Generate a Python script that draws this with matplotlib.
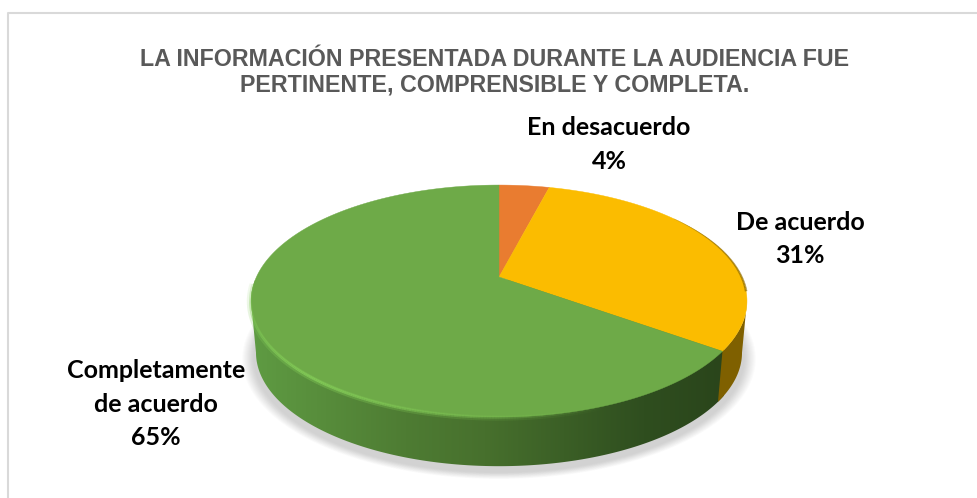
import numpy as np
import matplotlib
matplotlib.use("Agg")
import matplotlib.pyplot as plt
from matplotlib.collections import LineCollection
from matplotlib.colors import LinearSegmentedColormap, to_rgb

# ── Data ──────────────────────────────────────────────────────────────
categories = ["En desacuerdo", "De acuerdo", "Completamente\nde acuerdo"]
values = [4, 31, 65]
top_colors = ["#E97C30", "#FBBC00", "#6EAA48"]
title = "LA INFORMACIÓN PRESENTADA DURANTE LA AUDIENCIA FUE\nPERTINENTE, COMPRENSIBLE Y COMPLETA."

# pie geometry in pixels of the 977x498 canvas
CX, APEX_Y = 499, 277
A, B, K = 242.6, 111.0, 0.207
DEPTH, SHRINK = 52, 0.98


def project(frac, radius=1.0, drop=0.0, shrink=1.0):
    """Clockwise fraction of the pie -> canvas pixels, with perspective."""
    t = 2 * np.pi * np.asarray(frac)
    x, y = radius * np.sin(t), radius * np.cos(t)
    d = 1 + K * y
    return CX + shrink * A * x / d, APEX_Y + drop - shrink * B * y / d


def arc_segments(arc, radius=1.0):
    sx, sy = project(arc, radius=radius)
    pts = np.c_[sx, sy]
    return np.stack([pts[:-1], pts[1:]], axis=1)


fig = plt.figure(figsize=(9.77, 4.98), dpi=100)
ax = fig.add_axes([0, 0, 1, 1])
ax.set_xlim(0, 977)
ax.set_ylim(498, 0)
ax.axis("off")

# chart frame: only the left and top edges fall inside the crop
ax.plot([8, 8, 977], [498, 13, 13], color="#D9D9D9", lw=1.5, zorder=1)

fr = np.linspace(0, 1, 721)

# soft shadow below the pie
for grow in np.linspace(1.035, 0.99, 12):
    sx, sy = project(fr, shrink=grow, drop=DEPTH + 5)
    ax.fill(sx, sy, color="#707070", alpha=0.028, lw=0, zorder=2)

# ── Side wall ─────────────────────────────────────────────────────────
# the silhouette runs through the left and right extremes of both rims
ring_x = project(fr)[0]
f_right, f_left = fr[np.argmax(ring_x)], fr[np.argmin(ring_x)]
bx, by = project(np.linspace(f_right, f_left, 300), drop=DEPTH, shrink=SHRINK)
tx, ty = project(np.linspace(f_left, 1 + f_right, 300))
wall_x = np.r_[bx, tx]
wall_y = np.r_[by, ty]

wall_cmap = LinearSegmentedColormap.from_list(
    "wall", ["#5F9C43", "#578C3B", "#4E7C33", "#47702D", "#3B5F26", "#2F4E1F", "#2A451B"]
)
grad = np.linspace(0, 1, 256).reshape(1, -1)
left, right = CX - A - 10, project(0.35)[0] + 1
im = ax.imshow(grad, cmap=wall_cmap, extent=[left, right, 480, 280], aspect="auto", zorder=3)
poly = ax.fill(wall_x, wall_y, color="none", zorder=3)[0]
im.set_clip_path(poly)

# yellow part of the wall, right of the slice edge
edge = 0.35
yf = np.linspace(f_right, edge, 80)
ux, uy = project(yf)
dx, dy = project(yf[::-1], drop=DEPTH, shrink=SHRINK)
ax.fill(np.r_[ux, dx], np.r_[uy, dy], color="#7F6000", lw=0, zorder=3.1)

# ── Top face ──────────────────────────────────────────────────────────
bounds = np.r_[0, np.cumsum(values)] / np.sum(values)
for lo, hi, col in zip(bounds[:-1], bounds[1:], top_colors):
    arc = np.linspace(lo, hi, 200)
    sx, sy = project(arc)
    ax.fill(np.r_[CX, sx], np.r_[APEX_Y, sy], color=col, lw=0.3, ec=col, zorder=4)

# dark shaded edge on the far right of the yellow slice
arc = np.linspace(0.15, 0.27, 60)
segs = arc_segments(arc)
lw = np.linspace(0.2, 1.8, len(segs))
ax.add_collection(LineCollection(segs, colors="#8A6800", linewidths=lw, alpha=0.7, zorder=4.2))

# light bevel along the front rim of the green slice
arc = np.linspace(0.40, 0.74, 240)
for rad, width, strength in [(1.006, 3.8, 0.4), (1.003, 1.8, 0.85)]:
    segs = arc_segments(arc, radius=rad)
    peak = np.clip(1 - np.abs(arc[:-1] - 0.61) / 0.17, 0.0, 1) * strength
    colors = np.zeros((len(segs), 4))
    colors[:, :3] = to_rgb("#84CC58")
    colors[:, 3] = peak
    ax.add_collection(LineCollection(segs, colors=colors, linewidths=width, zorder=4.3))

# ── Text ──────────────────────────────────────────────────────────────
ax.text(495, 72.5, title, ha="center", va="center", fontsize=16.75, fontweight="bold",
        family="Liberation Sans", color="#595959", linespacing=1.13, zorder=6)

label_pos = [(609, 144.5), (800, 239), (156, 404)]
for cat, val, (lx, ly) in zip(categories, values, label_pos):
    ax.text(lx, ly, f"{cat}\n{val}%", ha="center", va="center", fontsize=18.0,
            fontweight="bold", family="Lato", color="black", linespacing=1.54, zorder=6)

fig.savefig("out.png", dpi=100)
